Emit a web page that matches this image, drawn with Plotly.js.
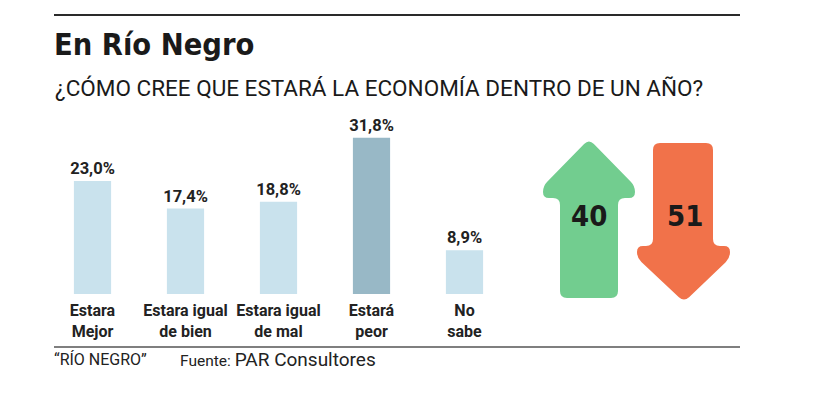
<!DOCTYPE html>
<html><head><meta charset="utf-8">
<script src="https://cdn.plot.ly/plotly-3.0.1.min.js"></script>
<style>html,body{margin:0;padding:0;background:#fff}#chart{width:835px;height:397px}</style>
</head><body><div id="chart"></div>
<script>
// ---- data ----
const categories = ["Estara<br>Mejor", "Estara igual<br>de bien", "Estara igual<br>de mal", "Estará<br>peor", "No<br>sabe"];
const values = [23.0, 17.4, 18.8, 31.8, 8.9];
const arrowLabels = ["Mejor", "Peor"];
const arrowValues = [40, 51];
const titleText = "En Río Negro";
const subtitleText = "¿CÓMO CREE QUE ESTARÁ LA ECONOMÍA DENTRO DE UN AÑO?";
const creditText = "“RÍO NEGRO”";
const sourceLabel = "Fuente:";
const sourceName = "PAR Consultores";

// ---- geometry helpers ----
const W = 835, H = 397, M = {l: 46, r: 324, t: 120, b: 103};
const PW = W - M.l - M.r, PH = H - M.t - M.b;
const fx = x => (x - M.l) / PW;
const fy = y => (H - M.b - y) / PH;
const P = p => fx(p[0]).toFixed(5) + ',' + fy(p[1]).toFixed(5);

function roundedPath(pts, r) {
  let d = '';
  const n = pts.length;
  for (let i = 0; i < n; i++) {
    const p = pts[i], pr = pts[(i - 1 + n) % n], nx = pts[(i + 1) % n];
    const d1 = [pr[0] - p[0], pr[1] - p[1]], d2 = [nx[0] - p[0], nx[1] - p[1]];
    const l1 = Math.hypot(d1[0], d1[1]), l2 = Math.hypot(d2[0], d2[1]);
    const rr = Math.min(r, l1 / 2, l2 / 2);
    const a = [p[0] + d1[0] / l1 * rr, p[1] + d1[1] / l1 * rr];
    const b = [p[0] + d2[0] / l2 * rr, p[1] + d2[1] / l2 * rr];
    d += (i === 0 ? 'M' : ' L') + P(a) + ' Q' + P(p) + ' ' + P(b);
  }
  return d + ' Z';
}

const upArrow = [[560,298],[560,198],[543,198],[543,186],[589,139],[635,186],[635,198],[618,198],[618,298]];
const downArrow = [[653,143],[713,143],[713,246],[730,246],[730,258],[684,302],[637,258],[637,246],[653,246]];

const highlight = values.indexOf(Math.max(...values));
const barColors = values.map((v, i) => i === highlight ? '#98b8c6' : '#c9e2ed');

const trace = {
  type: 'bar',
  x: categories,
  y: values,
  marker: {color: barColors},
  texttemplate: '%{y:.1f}%',
  textposition: 'outside',
  constraintext: 'none',
  textfont: {family: 'Roboto', size: 16.5, weight: 700, color: '#222'},
  cliponaxis: false,
  hoverinfo: 'skip'
};

const shapes = [
  {type: 'line', xref: 'paper', yref: 'paper', x0: fx(54), x1: fx(740), y0: fy(15), y1: fy(15), line: {color: '#2a2a2a', width: 2}},
  {type: 'line', xref: 'paper', yref: 'paper', x0: fx(54), x1: fx(740), y0: fy(347), y1: fy(347), line: {color: '#555', width: 1.5}},
  {type: 'path', xref: 'paper', yref: 'paper', path: roundedPath(upArrow, 7), fillcolor: '#72cd8f', line: {width: 0}},
  {type: 'path', xref: 'paper', yref: 'paper', path: roundedPath(downArrow, 7), fillcolor: '#f1724a', line: {width: 0}}
];

const ann = (text, x, y, font, xanchor) => ({text, xref: 'paper', yref: 'paper', x: fx(x), y: fy(y), xanchor: xanchor || 'left', yanchor: 'middle', showarrow: false, font});

const annotations = [
  ann('<b>' + titleText + '</b>', 52, 45, {family: 'DejaVu Sans Condensed, Roboto', size: 30.5, color: '#1a1a1a'}),
  ann(subtitleText, 53, 88, {family: 'Roboto', size: 22.5, color: '#1a1a1a'}),
  ann(creditText, 52, 359, {family: 'Roboto', size: 16, color: '#222'}),
  ann(sourceLabel + ' <span style="font-size:19px">' + sourceName + '</span>', 178, 359, {family: 'Roboto', size: 15.5, color: '#222'}),
  ann('<b>' + arrowValues[0] + '</b>', 589, 216, {family: 'DejaVu Sans Condensed, Roboto', size: 29, color: '#1a1a1a'}, 'center'),
  ann('<b>' + arrowValues[1] + '</b>', 685, 216, {family: 'DejaVu Sans Condensed, Roboto', size: 29, color: '#1a1a1a'}, 'center')
];

const layout = {
  width: W, height: H,
  margin: M,
  paper_bgcolor: '#fff', plot_bgcolor: 'rgba(0,0,0,0)',
  separators: ',.',
  showlegend: false,
  bargap: 0.6,
  xaxis: {range: [-0.5, 4.5], showgrid: false, zeroline: false, showline: false, ticks: '', fixedrange: true,
          ticklabelstandoff: 5,
          tickfont: {family: 'Roboto', size: 16, weight: 700, color: '#222'}},
  yaxis: {range: [0, PH / 4.91], visible: false, fixedrange: true},
  shapes, annotations
};

Plotly.newPlot('chart', [trace], layout, {displayModeBar: false, staticPlot: true});
</script></body></html>
